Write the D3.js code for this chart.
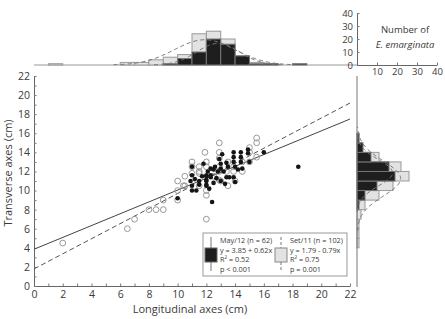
<!DOCTYPE html>
<html>
<head>
<meta charset="utf-8">
<script src="https://cdn.jsdelivr.net/npm/d3@7"></script>
<style>
  body { margin: 0; background: #fff; }
  text { font-family: "Open Sans", sans-serif; fill: #3a3a3a; }
</style>
</head>
<body>
<div id="chart"></div>
<script>
/* Scatter with marginal histograms */

// May/12 (filled dots)
const mayX = [10, 11, 11, 11.3, 11.5, 11, 11, 12, 12, 12, 12.3, 12.4, 12, 12, 12, 12.3, 12.5, 12.8, 13, 13.4,
  12.3, 13.4, 13.6, 13.9, 13.9, 13.9, 13.9, 14.4, 14.4, 14.4, 14.9, 14.9, 16, 18.4, 12.6, 13, 13.2, 12.7,
  11.5, 11.7, 12.1, 12.9, 13.5, 14, 14.5, 11.2, 10.9, 12.5, 13, 13.3, 14, 12.2, 11.8, 13.1, 14.2, 15];
const mayY = [9.2, 10, 10.5, 10, 10.6, 11.6, 12.5, 10.6, 11.1, 11.6, 11.6, 8.8, 10.5, 11, 11.5, 12.3, 12.2, 12, 12.8, 12.9,
  11.4, 11.4, 11.4, 11.4, 14, 13.5, 13, 14, 13.5, 13, 14.3, 13.9, 14, 12.5, 12.5, 12.3, 12, 11.3,
  11, 11.5, 12, 13.3, 12.5, 12.5, 12.3, 11.2, 11, 10.8, 11, 10.7, 10.9, 10.2, 12.8, 13.8, 12.2, 13];

// Set/11 (open circles)
const setX = [2, 6.5, 7, 8, 8.5, 9, 9, 10, 10, 10, 10.5, 12, 12, 11.5, 13, 12.9, 15.5, 15.5, 11.9, 12.9,
  12.9, 11, 11, 12, 11.5, 12.9, 12.9, 13.4, 13.9, 15, 15, 15, 15.5, 12.9, 10.4, 11.5, 12, 14, 13.5, 14.5,
  12, 11.5, 13.5, 14.5, 10.5, 11, 12.5, 13.9];
const setY = [4.5, 6, 7, 8, 8, 8, 9, 9, 10, 11, 10.5, 7, 9.5, 11.8, 11, 15, 15.5, 15, 14, 14,
  13.4, 13, 12.5, 12.5, 12, 12.5, 12, 12, 12, 14.5, 14, 13, 13.5, 11.1, 10.5, 10.5, 10, 11, 10.5, 12,
  13, 12.5, 13, 13, 11.5, 11.8, 11.5, 12.5];

// regression coefficients [intercept, slope]
const mayFit = [3.85, 0.62];
const setFit = [1.79, 0.79];

// marginal histograms, 1 cm bins (bin start, count)
const topSetBins = [1, 6, 7, 8, 9, 10, 11, 12, 13, 14, 15, 16];
const topSetCounts = [1, 2, 2, 4, 6, 8, 24, 26, 20, 7, 2, 1];
const topMayBins = [9, 10, 11, 12, 13, 14, 15, 16, 18];
const topMayCounts = [1, 5, 10, 20, 16, 7, 1, 1, 1];
const sideSetBins = [4, 5, 6, 7, 8, 9, 10, 11, 12, 13, 14, 15];
const sideSetCounts = [1, 1, 1, 2, 4, 11, 18, 26, 22, 11, 2, 1];
const sideMayBins = [8, 9, 10, 11, 12, 13, 14, 15];
const sideMayCounts = [1, 4, 10, 19, 16, 7, 3, 1];

const countTicks = [0, 10, 20, 30, 40];

const width = 445, height = 319;

const svg = d3.select("#chart")
  .append("svg")
  .attr("width", width)
  .attr("height", height);

const x = d3.scaleLinear().domain([0, 22]).range([34, 350]);
const y = d3.scaleLinear().domain([0, 22]).range([286, 76]);
const yTop = d3.scaleLinear().domain([0, 40]).range([65, 13]);
const xSide = d3.scaleLinear().domain([0, 40]).range([357, 437]);

// ---- main axes
const gx = svg.append("g")
  .attr("transform", `translate(0,${y(0)})`)
  .call(d3.axisBottom(x).tickValues(d3.range(0, 23, 1)).tickSizeInner(-2.5).tickSizeOuter(0).tickPadding(5)
    .tickFormat(d => d % 2 === 0 ? d : ""));
const gy = svg.append("g")
  .attr("transform", `translate(${x(0)},0)`)
  .call(d3.axisLeft(y).tickValues(d3.range(0, 23, 1)).tickSizeInner(-2.5).tickSizeOuter(0).tickPadding(4)
    .tickFormat(d => d % 2 === 0 ? d : ""));

[gx, gy].forEach(g => {
  g.select(".domain").attr("stroke", "#666");
  g.selectAll(".tick line").attr("stroke", "#777");
  g.selectAll("text").attr("font-size", 10.5)
    .style("font-family", '"Open Sans", sans-serif').attr("fill", "#3a3a3a");
});

svg.append("text")
  .attr("x", 190).attr("y", 313)
  .attr("text-anchor", "middle")
  .attr("font-size", 11)
  .text("Longitudinal axes (cm)");

svg.append("text")
  .attr("transform", "translate(12,173) rotate(-90)")
  .attr("text-anchor", "middle")
  .attr("font-size", 11)
  .text("Transverse axes (cm)");

// ---- normal fit for binned data
function normalFit(bins, counts) {
  const n = d3.sum(counts);
  const mean = d3.sum(bins, (b, i) => (b + 0.5) * counts[i]) / n;
  const sd = Math.sqrt(d3.sum(bins, (b, i) => counts[i] * (b + 0.5 - mean) ** 2) / n);
  const pts = d3.range(mean - 3 * sd, mean + 3 * sd + 0.01, 0.1)
    .map(v => [v, n / (sd * Math.sqrt(2 * Math.PI)) * Math.exp(-0.5 * ((v - mean) / sd) ** 2)]);
  return pts;
}

// ---- top histogram
const topG = svg.append("g");
topG.append("line")
  .attr("x1", x(0)).attr("x2", xSide(0))
  .attr("y1", yTop(0)).attr("y2", yTop(0))
  .attr("stroke", "#999").attr("stroke-width", 1);

topG.selectAll(".setbar")
  .data(topSetBins)
  .join("rect")
  .attr("class", "setbar")
  .attr("x", d => x(d))
  .attr("width", x(1) - x(0))
  .attr("y", (d, i) => yTop(topSetCounts[i]))
  .attr("height", (d, i) => yTop(0) - yTop(topSetCounts[i]))
  .attr("fill", "#e2e2e2")
  .attr("stroke", "#999");

topG.selectAll(".maybar")
  .data(topMayBins)
  .join("rect")
  .attr("class", "maybar")
  .attr("x", d => x(d))
  .attr("width", x(1) - x(0))
  .attr("y", (d, i) => yTop(topMayCounts[i]))
  .attr("height", (d, i) => yTop(0) - yTop(topMayCounts[i]))
  .attr("fill", "#1e1e1e")
  .attr("stroke", "#777");

const topLine = d3.line().x(d => x(d[0])).y(d => yTop(d[1]));
[normalFit(topSetBins, topSetCounts), normalFit(topMayBins, topMayCounts)].forEach(pts => {
  topG.append("path")
    .attr("d", topLine(pts))
    .attr("fill", "none")
    .attr("stroke", "#777")
    .attr("stroke-dasharray", "4,3");
});

// ---- side histogram
const sideG = svg.append("g");
sideG.selectAll(".setbar")
  .data(sideSetBins)
  .join("rect")
  .attr("class", "setbar")
  .attr("x", xSide(0))
  .attr("width", (d, i) => xSide(sideSetCounts[i]) - xSide(0))
  .attr("y", d => y(d + 1))
  .attr("height", y(0) - y(1))
  .attr("fill", "#e2e2e2")
  .attr("stroke", "#999");

sideG.selectAll(".maybar")
  .data(sideMayBins)
  .join("rect")
  .attr("class", "maybar")
  .attr("x", xSide(0))
  .attr("width", (d, i) => xSide(sideMayCounts[i]) - xSide(0))
  .attr("y", d => y(d + 1))
  .attr("height", y(0) - y(1))
  .attr("fill", "#1e1e1e")
  .attr("stroke", "#777");

const sideLine = d3.line().x(d => xSide(d[1])).y(d => y(d[0]));
[normalFit(sideSetBins, sideSetCounts), normalFit(sideMayBins, sideMayCounts)].forEach(pts => {
  sideG.append("path")
    .attr("d", sideLine(pts))
    .attr("fill", "none")
    .attr("stroke", "#777")
    .attr("stroke-dasharray", "4,3");
});

sideG.append("line")
  .attr("x1", xSide(0)).attr("x2", xSide(0))
  .attr("y1", y(22)).attr("y2", y(0) + 1)
  .attr("stroke", "#777");

// ---- corner count axes
const cy = svg.append("g")
  .attr("transform", `translate(${xSide(0)},0)`)
  .call(d3.axisLeft(yTop).tickValues(countTicks).tickSizeInner(-2.5).tickSizeOuter(0).tickPadding(4));
const cx = svg.append("g")
  .attr("transform", `translate(0,${yTop(0)})`)
  .call(d3.axisBottom(xSide).tickValues(countTicks.slice(1)).tickSizeInner(-2.5).tickSizeOuter(0).tickPadding(3));
[cx, cy].forEach(g => {
  g.select(".domain").attr("stroke", "#666");
  g.selectAll(".tick line").attr("stroke", "#777");
  g.selectAll("text").attr("font-size", 9.5)
    .style("font-family", '"Open Sans", sans-serif').attr("fill", "#3a3a3a");
});

svg.append("text")
  .attr("x", 405).attr("y", 33)
  .attr("text-anchor", "middle")
  .attr("font-size", 9.5)
  .text("Number of");
svg.append("text")
  .attr("x", 405).attr("y", 48)
  .attr("text-anchor", "middle")
  .attr("font-size", 9.5)
  .attr("font-style", "italic")
  .text("E. emarginata");

// ---- regression lines
const fitLine = d3.line().x(d => x(d[0])).y(d => y(d[1]));
svg.append("path")
  .attr("d", fitLine([[0, mayFit[0]], [22, mayFit[0] + mayFit[1] * 22]]))
  .attr("stroke", "#444").attr("fill", "none");
svg.append("path")
  .attr("d", fitLine([[0, setFit[0]], [22, setFit[0] + setFit[1] * 22]]))
  .attr("stroke", "#555").attr("fill", "none")
  .attr("stroke-dasharray", "5,3");

// ---- points
svg.append("g")
  .selectAll("circle")
  .data(setX)
  .join("circle")
  .attr("cx", d => x(d))
  .attr("cy", (d, i) => y(setY[i]))
  .attr("r", 2.9)
  .attr("fill", "none")
  .attr("stroke", "#999")
  .attr("stroke-width", 1);

svg.append("g")
  .selectAll("circle")
  .data(mayX)
  .join("circle")
  .attr("cx", d => x(d))
  .attr("cy", (d, i) => y(mayY[i]))
  .attr("r", 2.3)
  .attr("fill", "#151515");

// ---- legend
const lg = svg.append("g");
lg.append("rect")
  .attr("x", 203).attr("y", 233).attr("width", 144).attr("height", 43)
  .attr("fill", "#fff").attr("stroke", "#999");

lg.append("line").attr("x1", 211).attr("x2", 211).attr("y1", 237).attr("y2", 271).attr("stroke", "#777");
lg.append("rect").attr("x", 205).attr("y", 248).attr("width", 12).attr("height", 14)
  .attr("fill", "#1e1e1e").attr("stroke", "#666");

lg.append("line").attr("x1", 281).attr("x2", 281).attr("y1", 237).attr("y2", 271)
  .attr("stroke", "#777").attr("stroke-dasharray", "3,2");
lg.append("rect").attr("x", 275).attr("y", 248).attr("width", 12).attr("height", 14)
  .attr("fill", "#e2e2e2").attr("stroke", "#888");

const mayLabels = ["May/12 (n = 62)", "y = 3.85 + 0.62x", "R² = 0.52", "p < 0.001"];
const setLabels = ["Set/11 (n = 102)", "y = 1.79 - 0.79x", "R² = 0.75", "p = 0.001"];

lg.selectAll(".may")
  .data(mayLabels)
  .join("text")
  .attr("class", "may")
  .attr("x", 220)
  .attr("y", (d, i) => 243 + i * 9.5)
  .attr("font-size", 7.3)
  .text(d => d);

lg.selectAll(".set")
  .data(setLabels)
  .join("text")
  .attr("class", "set")
  .attr("x", 290)
  .attr("y", (d, i) => 243 + i * 9.5)
  .attr("font-size", 7.3)
  .text(d => d);
</script>
</body>
</html>
